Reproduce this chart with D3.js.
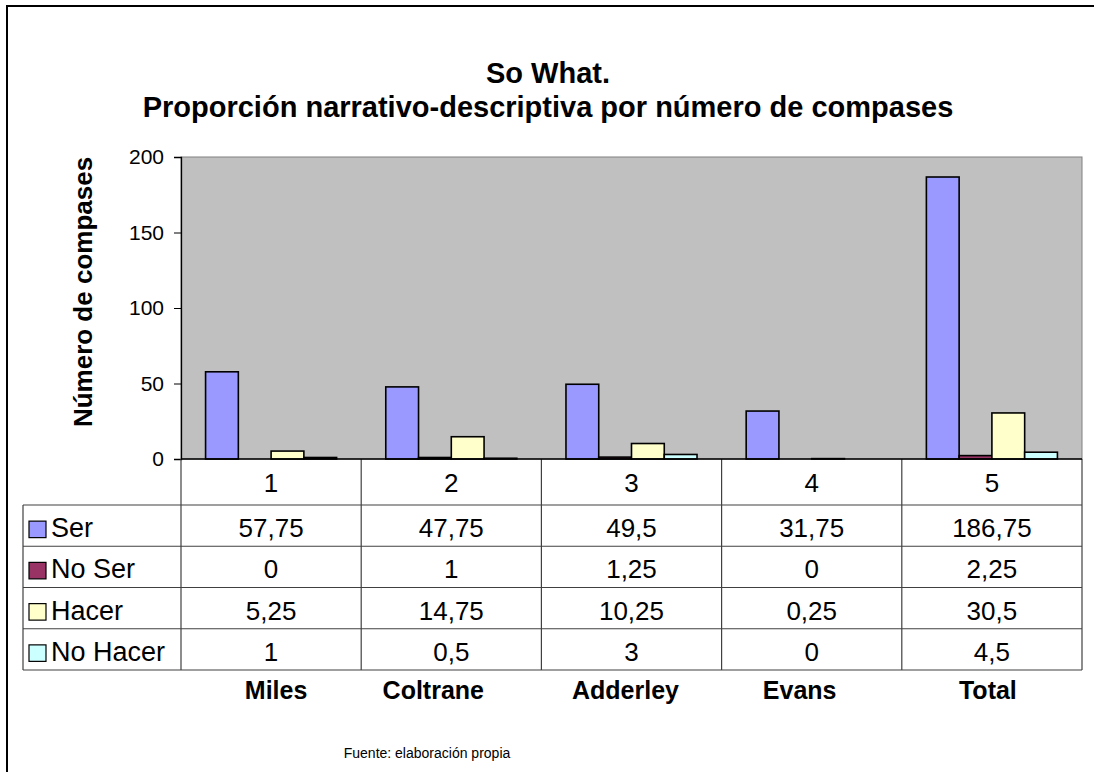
<!DOCTYPE html>
<html>
<head>
<meta charset="utf-8">
<script src="https://cdn.jsdelivr.net/npm/d3@7"></script>
<style>
  body { margin: 0; background: #fff; }
  svg { display: block; font-family: "Liberation Sans", Arial, sans-serif; }
</style>
</head>
<body>
<svg id="chart" width="1094" height="772"></svg>
<script>
// chart data
let categories = ["1", "2", "3", "4", "5"];
let people = ["Miles", "Coltrane", "Adderley", "Evans", "Total"];
let seriesNames = ["Ser", "No Ser", "Hacer", "No Hacer"];
let ser = [57.75, 47.75, 49.5, 31.75, 186.75];
let noSer = [0, 1, 1.25, 0, 2.25];
let hacer = [5.25, 14.75, 10.25, 0.25, 30.5];
let noHacer = [1, 0.5, 3, 0, 4.5];
let yTicks = [0, 50, 100, 150, 200];
let seriesColors = ["#9999ff", "#993366", "#ffffcc", "#ccffff"];

let seriesValues = [ser, noSer, hacer, noHacer];

// the names line sits a bit off the column centres in the original
let peopleShift = [5, -18, -6, -12, -4];

let svg = d3.select("#chart");

// plot area bounds
let plotLeft = 181, plotRight = 1082, plotTop = 157, plotBottom = 459;
let tableLeft = 23;
let headerBottom = 505;
let rowH = 41.25;
let tableFont = 26;

let es = d3.formatLocale({ decimal: ",", thousands: ".", grouping: [3], currency: ["", " €"] });
let fmt = es.format(".2~f");

// outer frame (runs off the right/bottom edge like the original)
svg.append("rect")
  .attr("x", 7).attr("y", 6)
  .attr("width", 1200).attr("height", 900)
  .attr("fill", "none")
  .attr("stroke", "#000")
  .attr("stroke-width", 2);

// title
let title = svg.append("text")
  .attr("text-anchor", "middle")
  .attr("font-weight", "bold")
  .attr("font-size", 29)
  .attr("fill", "#000");
title.append("tspan").attr("x", 548).attr("y", 83).text("So What.");
title.append("tspan").attr("x", 548).attr("y", 117).text("Proporción narrativo-descriptiva por número de compases");

let xScale = d3.scaleBand().domain(categories).range([plotLeft, plotRight]).padding(0);
let innerScale = d3.scaleBand()
  .domain(seriesNames)
  .range([0, xScale.bandwidth()])
  .paddingInner(0)
  .paddingOuter(0.75);
let yScale = d3.scaleLinear().domain([0, 200]).range([plotBottom, plotTop]);

// plot background
svg.append("rect")
  .attr("x", plotLeft).attr("y", plotTop)
  .attr("width", plotRight - plotLeft).attr("height", plotBottom - plotTop)
  .attr("fill", "#c0c0c0")
  .attr("stroke", "#808080")
  .attr("stroke-width", 1);

// bars
let barData = [];
seriesNames.forEach((s, si) => {
  categories.forEach((c, ci) => {
    barData.push({ series: s, cat: c, value: seriesValues[si][ci], color: seriesColors[si] });
  });
});

svg.append("g")
  .selectAll("rect")
  .data(barData.filter(d => d.value > 0))
  .join("rect")
  .attr("x", d => xScale(d.cat) + innerScale(d.series))
  .attr("y", d => yScale(d.value))
  .attr("width", innerScale.bandwidth())
  .attr("height", d => plotBottom - yScale(d.value))
  .attr("fill", d => d.color)
  .attr("stroke", "#000")
  .attr("stroke-width", 1.6);

// y axis
let yAxis = svg.append("g")
  .attr("transform", `translate(${plotLeft},0)`)
  .call(d3.axisLeft(yScale).tickValues(yTicks).tickSize(7).tickPadding(10).tickFormat(d3.format("d")));
yAxis.select(".domain").attr("stroke", "#000").attr("stroke-width", 1.3);
yAxis.selectAll(".tick line").attr("stroke", "#000");
yAxis.selectAll(".tick text")
  .attr("font-size", 21)
  .attr("font-family", "Liberation Sans, Arial, sans-serif")
  .attr("fill", "#000");

svg.append("text")
  .attr("transform", "translate(92,292) rotate(-90)")
  .attr("text-anchor", "middle")
  .attr("font-weight", "bold")
  .attr("font-size", 26)
  .text("Número de compases");

// data table
let table = svg.append("g").attr("stroke", "#404040").attr("stroke-width", 1.2);
let tableBottom = headerBottom + rowH * seriesNames.length;

// baseline of plot
svg.append("line")
  .attr("x1", plotLeft).attr("x2", plotRight)
  .attr("y1", plotBottom).attr("y2", plotBottom)
  .attr("stroke", "#000").attr("stroke-width", 1.3);

// column lines
let colEdges = categories.map(c => xScale(c)).concat([plotRight]);
table.selectAll("line.col")
  .data(colEdges)
  .join("line")
  .attr("class", "col")
  .attr("x1", d => d).attr("x2", d => d)
  .attr("y1", plotBottom).attr("y2", tableBottom);

table.append("line")
  .attr("x1", tableLeft).attr("x2", tableLeft)
  .attr("y1", headerBottom).attr("y2", tableBottom);

// row lines
let rowEdges = d3.range(seriesNames.length + 1).map(i => headerBottom + i * rowH);
table.selectAll("line.row")
  .data(rowEdges)
  .join("line")
  .attr("class", "row")
  .attr("x1", tableLeft).attr("x2", plotRight)
  .attr("y1", d => d).attr("y2", d => d);

// header numbers
svg.append("g")
  .selectAll("text")
  .data(categories)
  .join("text")
  .attr("x", d => xScale(d) + xScale.bandwidth() / 2)
  .attr("y", (plotBottom + headerBottom) / 2 + 10)
  .attr("text-anchor", "middle")
  .attr("font-size", tableFont)
  .text(d => d);

// value cells
let cells = [];
seriesNames.forEach((s, si) => {
  categories.forEach((c, ci) => {
    cells.push({ row: si, cat: c, value: seriesValues[si][ci] });
  });
});
svg.append("g")
  .selectAll("text")
  .data(cells)
  .join("text")
  .attr("x", d => xScale(d.cat) + xScale.bandwidth() / 2)
  .attr("y", d => headerBottom + d.row * rowH + rowH / 2 + 11.5)
  .attr("text-anchor", "middle")
  .attr("font-size", tableFont)
  .text(d => fmt(d.value));

// legend keys in the table
let legend = svg.append("g")
  .selectAll("g")
  .data(seriesNames)
  .join("g")
  .attr("transform", (d, i) => `translate(${tableLeft + 6},${headerBottom + i * rowH + rowH / 2})`);
legend.append("rect")
  .attr("x", 0).attr("y", -4.5)
  .attr("width", 17).attr("height", 16.5)
  .attr("fill", (d, i) => seriesColors[i])
  .attr("stroke", "#000")
  .attr("stroke-width", 1.2);
legend.append("text")
  .attr("x", 22)
  .attr("y", 11.5)
  .attr("font-size", 27)
  .text(d => d);

// names under the table
svg.append("g")
  .selectAll("text")
  .data(people)
  .join("text")
  .attr("x", (d, i) => xScale(categories[i]) + xScale.bandwidth() / 2 + peopleShift[i])
  .attr("y", 699)
  .attr("text-anchor", "middle")
  .attr("font-weight", "bold")
  .attr("font-size", 25)
  .text(d => d);

svg.append("text")
  .attr("x", 427)
  .attr("y", 758)
  .attr("text-anchor", "middle")
  .attr("font-size", 14)
  .text("Fuente: elaboración propia");
</script>
</body>
</html>
